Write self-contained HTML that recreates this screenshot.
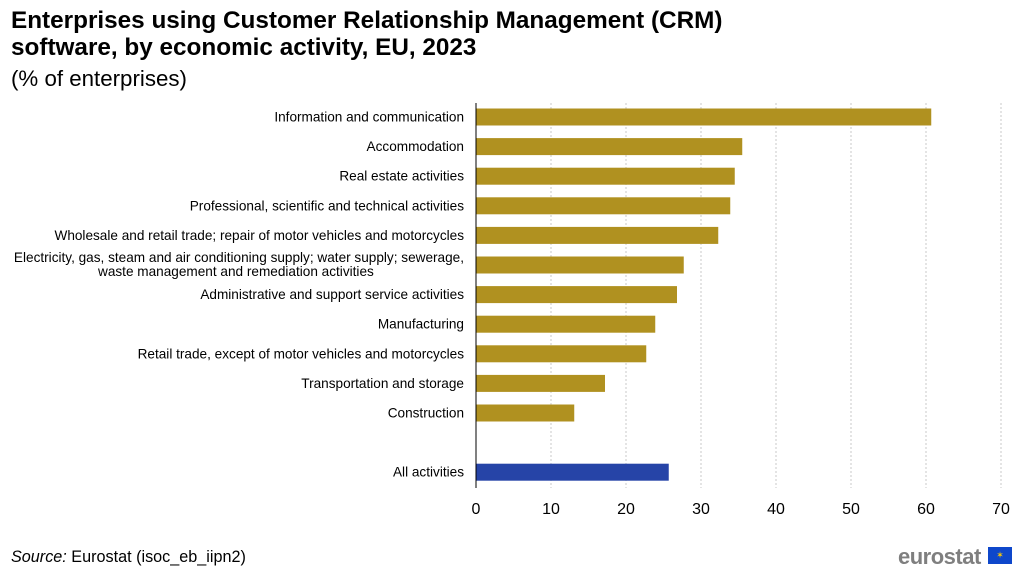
<!DOCTYPE html>
<html><head><meta charset="utf-8"><style>
body{margin:0;background:#fff;font-family:"Liberation Sans",Arial,sans-serif;}
#wrap{position:relative;width:1024px;height:580px;overflow:hidden;}
.t{position:absolute;left:11px;color:#000;}
</style></head><body>
<div id="wrap">
<div class="t" style="top:7px;font-size:24.3px;font-weight:bold;line-height:27px;">Enterprises using Customer Relationship Management (CRM)<br>software, by economic activity, EU, 2023</div>
<div class="t" style="top:66px;font-size:22.3px;">(% of enterprises)</div>
<div class="t" style="top:548px;font-size:16.2px;"><i>Source:</i> Eurostat (isoc_eb_iipn2)</div>
<div style="position:absolute;left:898px;top:544px;font-size:22px;font-weight:bold;color:#7f7f7f;letter-spacing:-0.5px;">eurostat</div>
<div style="position:absolute;left:988px;top:547px;width:24px;height:17px;background:#0e47cb;color:#fc0;font-size:9px;text-align:center;line-height:17px;">✶</div>
<svg id="chart" width="1024" height="580" style="position:absolute;left:0;top:0"></svg>
</div>
<script>
const categories=["Information and communication","Accommodation","Real estate activities","Professional, scientific and technical activities","Wholesale and retail trade; repair of motor vehicles and motorcycles","Electricity, gas, steam and air conditioning supply; water supply; sewerage,|waste management and remediation activities","Administrative and support service activities","Manufacturing","Retail trade, except of motor vehicles and motorcycles","Transportation and storage","Construction","","All activities"];
const values=[60.7,35.5,34.5,33.9,32.3,27.7,26.8,23.9,22.7,17.2,13.1,null,25.7];
const ticks=[0,10,20,30,40,50,60,70];
const svg=document.getElementById('chart');
const NS="http://www.w3.org/2000/svg";
const x0=476,x1=1001,xmax=70,top0=103,step=29.6;
const xs=v=>x0+(x1-x0)*v/xmax;
const yc=i=>117+i*step;
function mk(t,a){const e=document.createElementNS(NS,t);for(const k in a)e.setAttribute(k,a[k]);svg.appendChild(e);return e;}
ticks.forEach(t=>{
 if(t>0){const g=mk('line',{x1:xs(t),x2:xs(t),y1:top0,y2:488,stroke:'#c8c8c8','stroke-dasharray':'2,2'});
 
 }
 const l=mk('text',{x:xs(t),y:514,'font-size':16,'text-anchor':'middle',fill:'#000'});
 l.textContent=t;
 
 
});
categories.forEach((c,i)=>{
 const v=values[i];
 if(v!=null){
  const b=mk('rect',{x:x0,y:yc(i)-8.5,width:xs(v)-x0,height:17,fill:i==12?'#2644a7':'#b09120'});
  
  
 }
 if(c){
  const parts=c.split('|');
  parts.forEach((p,j)=>{
   const two=parts.length>1;
   const ty=two?yc(i)-7+j*14+4:yc(i)+4.5;
   const t=mk('text',{x:two&&j==1?98:464,y:ty,'font-size':13.6,'text-anchor':two&&j==1?'start':'end',fill:'#000'});
   t.textContent=p;
   
   
  });
 }
});
const ax=mk('line',{x1:x0,x2:x0,y1:top0,y2:488,stroke:'#000','stroke-width':1});


</script>
</body></html>
